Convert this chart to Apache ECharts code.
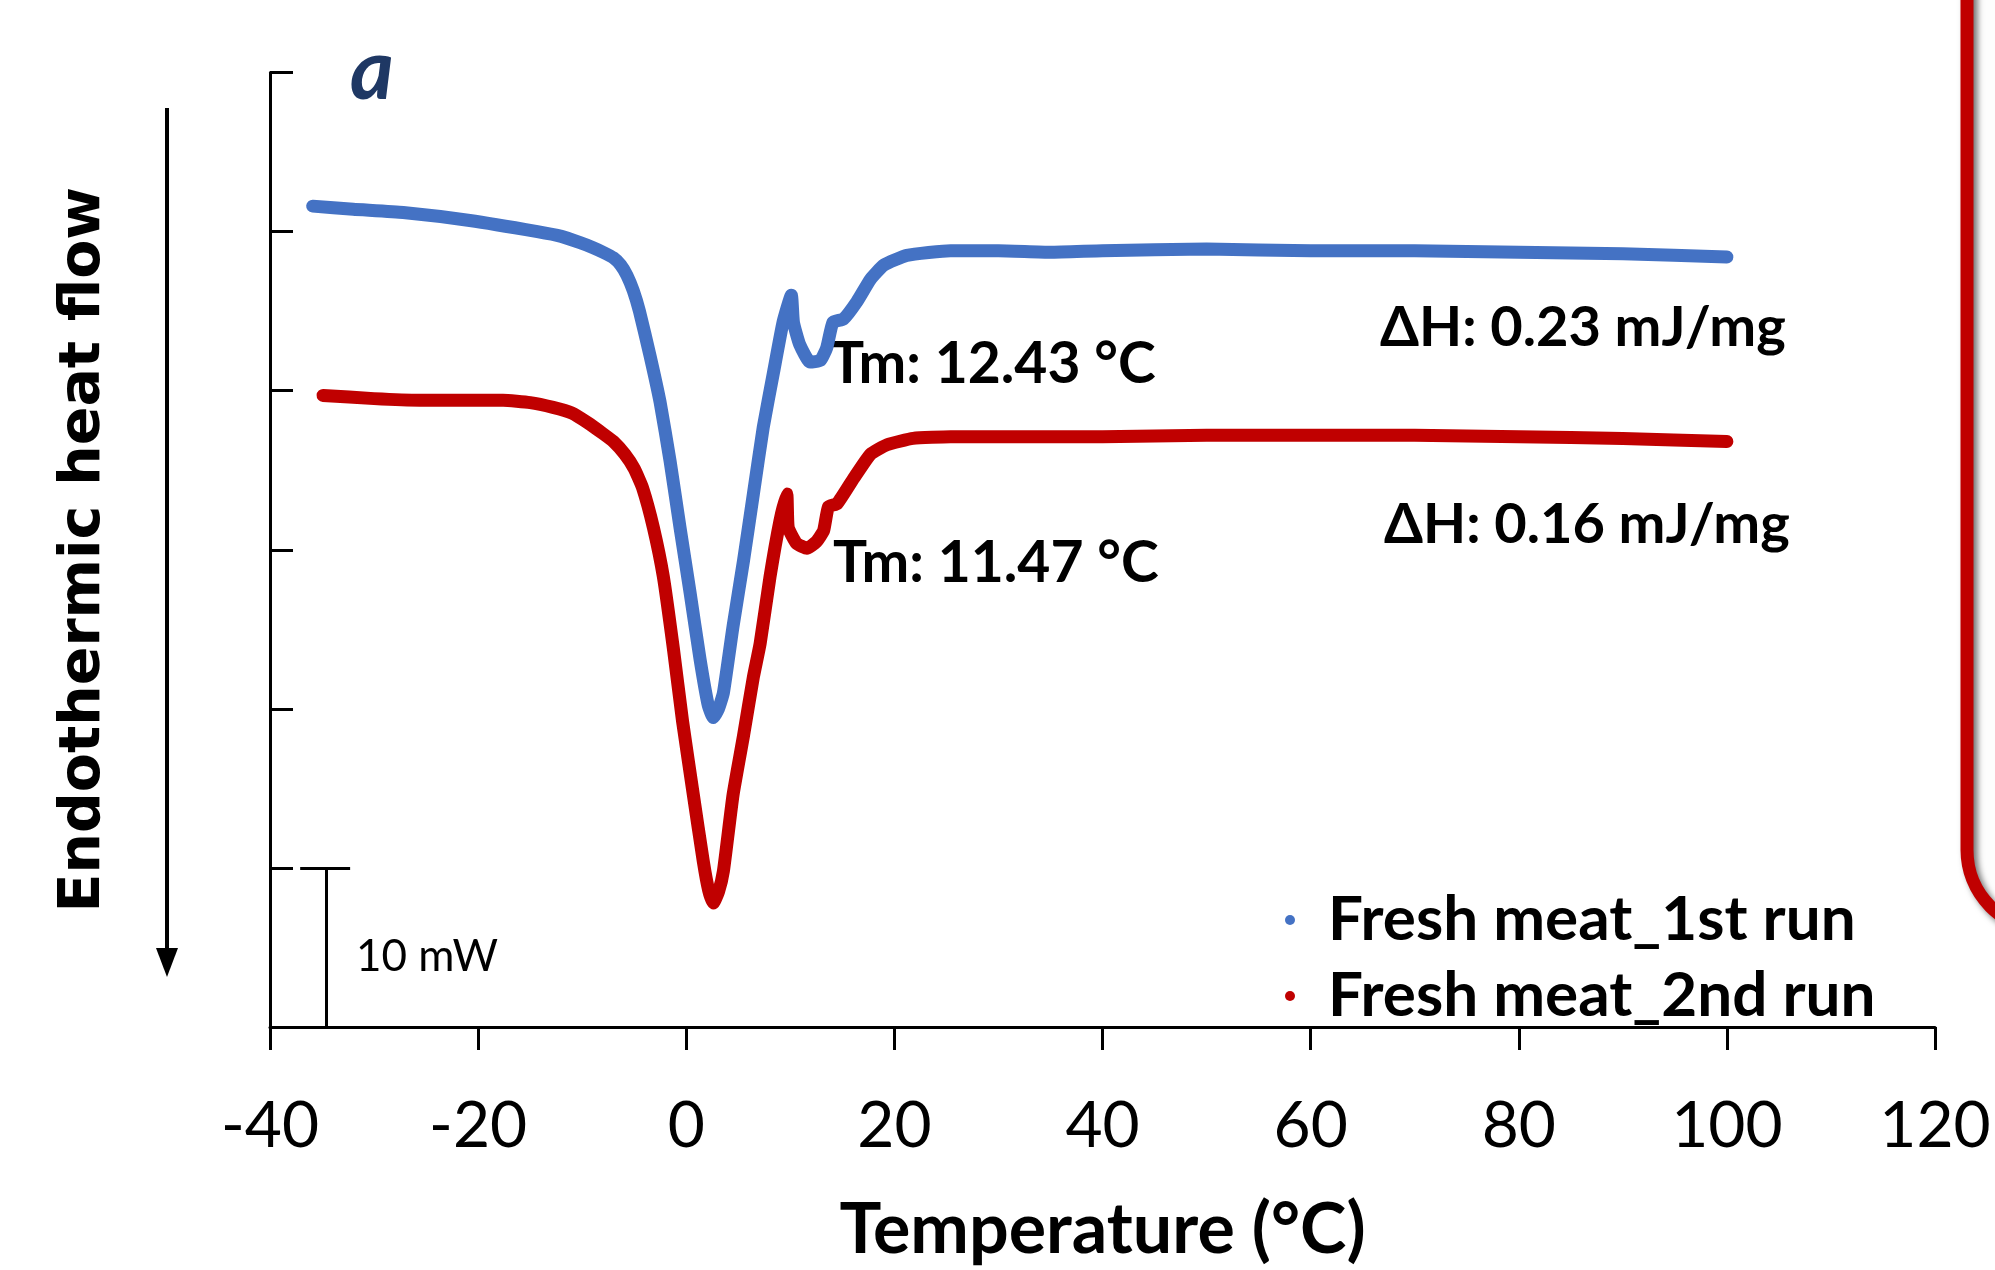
<!DOCTYPE html>
<html>
<head>
<meta charset="utf-8">
<script src="https://cdn.jsdelivr.net/npm/echarts@6/dist/echarts.min.js"></script>
<style>
  html, body { margin: 0; padding: 0; background: #fff; }
  #dsc-chart { width: 1995px; height: 1270px; }
</style>
</head>
<body>
<div id="dsc-chart"></div>
<script>
// temperature (°C) and heat flow (mW, offset)
var tempRun1 = [-35.9, -32, -27.2, -20.8, -14.3, -12, -10.2, -9, -8, -7.0, -6.3, -5.7, -5.1, -4.5, -3.48, -2.52, -1.56, -0.6, 0.37, 1.33, 2.12, 2.6, 3.1, 3.57, 4.5, 5.5, 6.45, 7.4, 8.4, 9.3, 10.1, 10.3, 10.9, 11.9, 12.9, 13.5, 14.1, 15.1, 16.4, 17.7, 19.0, 21.2, 25.4, 30, 35, 40, 50, 60, 70, 80, 90, 100];
var flowRun1 = [51.6, 51.4, 51.2, 50.7, 50.0, 49.7, 49.3, 49.0, 48.7, 48.35, 47.9, 47.25, 46.3, 45.0, 42.2, 39.3, 35.6, 31.4, 27.3, 23.1, 20.2, 19.45, 20.0, 21.0, 25.2, 29.3, 33.5, 37.7, 41.2, 44.3, 46.0, 44.3, 42.9, 41.8, 41.9, 42.7, 44.3, 44.5, 45.6, 47.0, 47.9, 48.5, 48.8, 48.8, 48.7, 48.8, 48.9, 48.8, 48.8, 48.7, 48.6, 48.4];

var tempRun2 = [-34.9, -30, -25.6, -17.6, -15, -12.8, -11, -9.5, -8, -7.0, -5.9, -5.0, -4.2, -3.16, -2.2, -1.24, -0.35, 0.68, 1.64, 2.15, 2.6, 3.1, 3.57, 4.5, 5.5, 6.45, 7.1, 8.05, 9.0, 9.66, 9.8, 10.6, 11.6, 12.5, 13.2, 13.66, 14.5, 16.1, 17.7, 19.3, 21.8, 25.4, 30, 40, 50, 60, 70, 80, 90, 100];
var flowRun2 = [39.7, 39.5, 39.4, 39.4, 39.25, 38.95, 38.6, 38.0, 37.3, 36.8, 36.0, 35.1, 33.9, 31.4, 28.3, 23.8, 19.2, 14.6, 10.4, 8.6, 7.8, 8.5, 9.8, 14.6, 18.3, 22.0, 24.1, 28.3, 31.8, 33.5, 31.4, 30.4, 30.1, 30.5, 31.2, 32.7, 32.9, 34.5, 36.0, 36.6, 37.0, 37.1, 37.1, 37.1, 37.2, 37.2, 37.2, 37.1, 37.0, 36.8];

var seriesNames = ['Fresh meat_1st run', 'Fresh meat_2nd run'];
var xTicks = [-40, -20, 0, 20, 40, 60, 80, 100, 120];

// 10 mW scale bar
var scaleBarX = -34.6;
var scaleBarCaps = [-37.1, -32.3];
var scaleBarRange = [0, 10];

function pairs(xs, ys) {
    var out = [];
    for (var i = 0; i < xs.length; i++) out.push([xs[i], ys[i]]);
    return out;
}

var chart = echarts.init(document.getElementById('dsc-chart'));

var tickFont = 'Lato, "Open Sans", sans-serif';

option = {
    backgroundColor: '#ffffff',
    animation: false,
    grid: {
        left: 270,
        right: 60,
        top: 72.5,
        bottom: 237
    },
    legend: {
        data: seriesNames,
        orient: 'vertical',
        left: 1280,
        top: 884,
        icon: 'circle',
        itemWidth: 10,
        itemHeight: 10,
        itemGap: 14,
        textStyle: {
            fontFamily: tickFont,
            fontWeight: 'bold',
            fontSize: 62,
            color: '#000',
            padding: [0, 0, 0, 28]
        }
    },
    xAxis: {
        type: 'value',
        min: xTicks[0],
        max: xTicks[xTicks.length - 1],
        interval: 20,
        name: 'Temperature (°C)',
        nameLocation: 'middle',
        nameGap: 168,
        nameTextStyle: {
            fontFamily: tickFont,
            fontWeight: 'bold',
            fontSize: 70,
            color: '#000'
        },
        axisLine: { onZero: false, lineStyle: { color: '#000', width: 3 } },
        axisTick: { inside: false, length: 23, lineStyle: { color: '#000', width: 3 } },
        axisLabel: {
            margin: 67,
            fontFamily: tickFont,
            fontSize: 64,
            color: '#000'
        },
        splitLine: { show: false }
    },
    yAxis: {
        type: 'value',
        min: 0,
        max: 60,
        interval: 10,
        name: 'Endothermic heat flow',
        nameLocation: 'middle',
        nameRotate: 90,
        nameGap: 157,
        nameTextStyle: {
            fontFamily: '"DejaVu Sans", sans-serif',
            fontWeight: 'bold',
            fontSize: 57,
            color: '#000'
        },
        axisLine: { show: true, onZero: false, lineStyle: { color: '#000', width: 3 } },
        axisTick: { show: true, inside: true, length: 23, lineStyle: { color: '#000', width: 3 } },
        axisLabel: { show: false },
        splitLine: { show: false }
    },
    series: [
        {
            name: seriesNames[0],
            type: 'line',
            data: pairs(tempRun1, flowRun1),
            showSymbol: false,
            smooth: 0.15,
            itemStyle: { color: '#4472C4' },
            lineStyle: { color: '#4472C4', width: 13, cap: 'round', join: 'round' },
            z: 3
        },
        {
            name: seriesNames[1],
            type: 'line',
            data: pairs(tempRun2, flowRun2),
            showSymbol: false,
            smooth: 0.15,
            itemStyle: { color: '#C00000' },
            lineStyle: { color: '#C00000', width: 13, cap: 'round', join: 'round' },
            z: 3
        },
        {
            name: 'scale',
            type: 'line',
            data: [],
            silent: true,
            markLine: {
                silent: true,
                symbol: 'none',
                label: { show: false },
                lineStyle: { color: '#000', width: 3, type: 'solid' },
                data: [
                    [{ coord: [scaleBarCaps[0], scaleBarRange[1]] }, { coord: [scaleBarCaps[1], scaleBarRange[1]] }],
                    [{ coord: [scaleBarX, scaleBarRange[0]] }, { coord: [scaleBarX, scaleBarRange[1]] }],
                    [{ coord: [scaleBarCaps[0], scaleBarRange[0]] }, { coord: [scaleBarCaps[1], scaleBarRange[0]] }]
                ]
            }
        }
    ],
    graphic: [
        // arrow beside y-axis title
        { type: 'line', shape: { x1: 167, y1: 108, x2: 167, y2: 955 }, style: { stroke: '#000', lineWidth: 4 } },
        { type: 'polygon', shape: { points: [[156, 948], [178, 948], [167, 977]] }, style: { fill: '#000' } },
        // panel letter
        { type: 'text', x: 350, y: 72, style: { text: 'a', fill: '#1F3864', font: 'italic bold 84px Lato, sans-serif', textAlign: 'left', textVerticalAlign: 'middle' } },
        // annotations
        { type: 'text', x: 830, y: 365, style: { text: 'Tm: 12.43 °C', fill: '#000', font: 'bold 57px Lato, sans-serif', textAlign: 'left', textVerticalAlign: 'middle' } },
        { type: 'text', x: 833, y: 564, style: { text: 'Tm: 11.47 °C', fill: '#000', font: 'bold 57px Lato, sans-serif', textAlign: 'left', textVerticalAlign: 'middle' } },
        { type: 'text', x: 1380, y: 328, style: { text: 'ΔH: 0.23 mJ/mg', fill: '#000', font: 'bold 56px Lato, sans-serif', textAlign: 'left', textVerticalAlign: 'middle' } },
        { type: 'text', x: 1384, y: 525, style: { text: 'ΔH: 0.16 mJ/mg', fill: '#000', font: 'bold 56px Lato, sans-serif', textAlign: 'left', textVerticalAlign: 'middle' } },
        { type: 'text', x: 356, y: 957, style: { text: '10 mW', fill: '#000', font: '44px Lato, sans-serif', textAlign: 'left', textVerticalAlign: 'middle' } },
        // red rounded frame of the neighbouring panel
        {
            type: 'rect',
            shape: { x: 1967, y: -120, width: 200, height: 1050, r: 80 },
            style: {
                fill: '#fdfdfd',
                stroke: '#C00000',
                lineWidth: 13,
                shadowColor: 'rgba(0,0,0,0.55)',
                shadowBlur: 6,
                shadowOffsetX: 4,
                shadowOffsetY: 4
            }
        }
    ]
};

chart.setOption(option);
</script>
</body>
</html>
